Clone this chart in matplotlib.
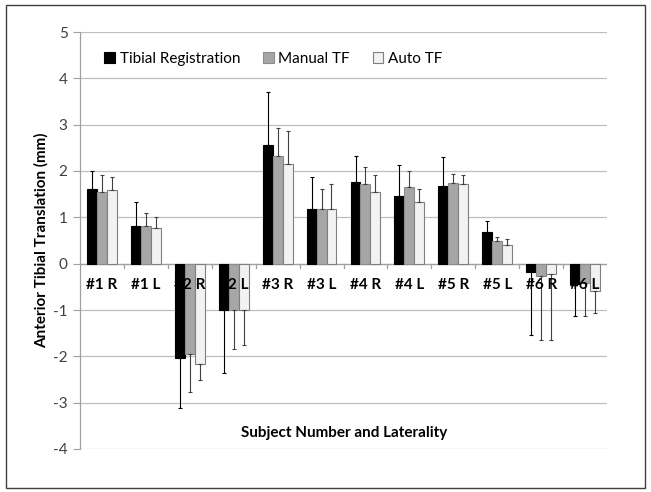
import matplotlib
matplotlib.use("Agg")
import matplotlib.pyplot as plt
import numpy as np
from matplotlib.patches import Rectangle

categories = ["#1 R", "#1 L", "#2 R", "#2 L", "#3 R", "#3 L",
              "#4 R", "#4 L", "#5 R", "#5 L", "#6 R", "#6 L"]
series_names = ["Tibial Registration", "Manual TF", "Auto TF"]
tibial = [1.61, 0.81, -2.03, -1.00, 2.56, 1.17, 1.76, 1.47, 1.68, 0.68, -0.17, -0.43]
manual = [1.55, 0.81, -1.96, -1.00, 2.33, 1.17, 1.72, 1.66, 1.75, 0.50, -0.27, -0.42]
auto = [1.60, 0.76, -2.17, -0.99, 2.16, 1.17, 1.55, 1.33, 1.73, 0.40, -0.22, -0.60]
tibial_err = [0.39, 0.52, 1.09, 1.35, 1.15, 0.69, 0.56, 0.67, 0.62, 0.24, 1.36, 0.69]
manual_err = [0.37, 0.29, 0.81, 0.85, 0.60, 0.44, 0.37, 0.33, 0.19, 0.08, 1.37, 0.70]
auto_err = [0.28, 0.25, 0.33, 0.77, 0.70, 0.54, 0.36, 0.28, 0.19, 0.13, 1.42, 0.46]
yticks = [5, 4, 3, 2, 1, 0, -1, -2, -3, -4]

plt.rcParams['font.family'] = ['Lato', 'DejaVu Sans']

fig = plt.figure(figsize=(6.51, 4.92), dpi=100)
ax = fig.add_axes([80/651, 1-449/492, 527/651, 417/492])

x = np.arange(len(categories))
w = 0.226
styles = [
    dict(color="#000000", edgecolor="#000000", ecolor="#000000"),
    dict(color="#a6a6a6", edgecolor="#8c8c8c", ecolor="#404040"),
    dict(color="#f2f2f2", edgecolor="#7f7f7f", ecolor="#404040"),
]
data = [tibial, manual, auto]
errs = [tibial_err, manual_err, auto_err]
handles = []
for k in range(3):
    vals = np.array(data[k])
    e = np.array(errs[k])
    lower = np.where(vals < 0, e, 0)
    upper = np.where(vals >= 0, e, 0)
    st = styles[k]
    b = ax.bar(x + (k - 1) * w, vals, width=w, color=st["color"],
               edgecolor=st["edgecolor"], linewidth=0.8, zorder=3,
               label=series_names[k])
    ax.errorbar(x + (k - 1) * w, vals, yerr=[lower, upper], fmt="none",
                ecolor=st["ecolor"], elinewidth=0.8, capsize=1.5, capthick=0.8,
                zorder=4)
    handles.append(b)

ax.set_xlim(-0.5, len(categories) - 0.5)
ax.set_ylim(-4, 5)
ax.set_yticks(yticks)
ax.set_yticklabels([str(t) for t in yticks], fontsize=11, color="#404040")
ax.yaxis.grid(True, color="#bfbfbf", linewidth=0.9, zorder=0)
ax.set_axisbelow(True)
ax.tick_params(axis="y", length=5, color="#a0a0a0", pad=4)
ax.set_xticks([])
for s in ["top", "right", "bottom"]:
    ax.spines[s].set_visible(False)
ax.spines["left"].set_color("#a0a0a0")
ax.spines["left"].set_linewidth(0.9)

# zero axis line and boundary ticks
ax.axhline(0, color="#a0a0a0", linewidth=0.9, zorder=1)
for b_ in np.arange(-0.5, len(categories), 1.0):
    ax.plot([b_, b_], [0, -0.1], color="#a0a0a0", linewidth=0.9, zorder=1)

for i, c in enumerate(categories):
    ax.text(i, -0.45, c, ha="center", va="center", fontsize=11,
            fontweight="bold", color="#000000", zorder=5)

ax.set_ylabel("Anterior Tibial Translation (mm)", fontsize=11,
              fontweight="bold", labelpad=3)
fig.text(344/651, 1-433/492, "Subject Number and Laterality", ha="center",
         va="center", fontsize=11, fontweight="bold")

leg = ax.legend(handles=handles, loc="upper left", ncol=3, frameon=False,
                fontsize=11, bbox_to_anchor=(0.02, 0.985), handlelength=0.7,
                handleheight=0.7, handletextpad=0.3, columnspacing=1.5)

fig.patches.append(Rectangle((6/651, 1-488/492), 639/651, 483/492,
                             transform=fig.transFigure, fill=False,
                             edgecolor="#404040", linewidth=1.0))

fig.savefig("out.png", dpi=100)
